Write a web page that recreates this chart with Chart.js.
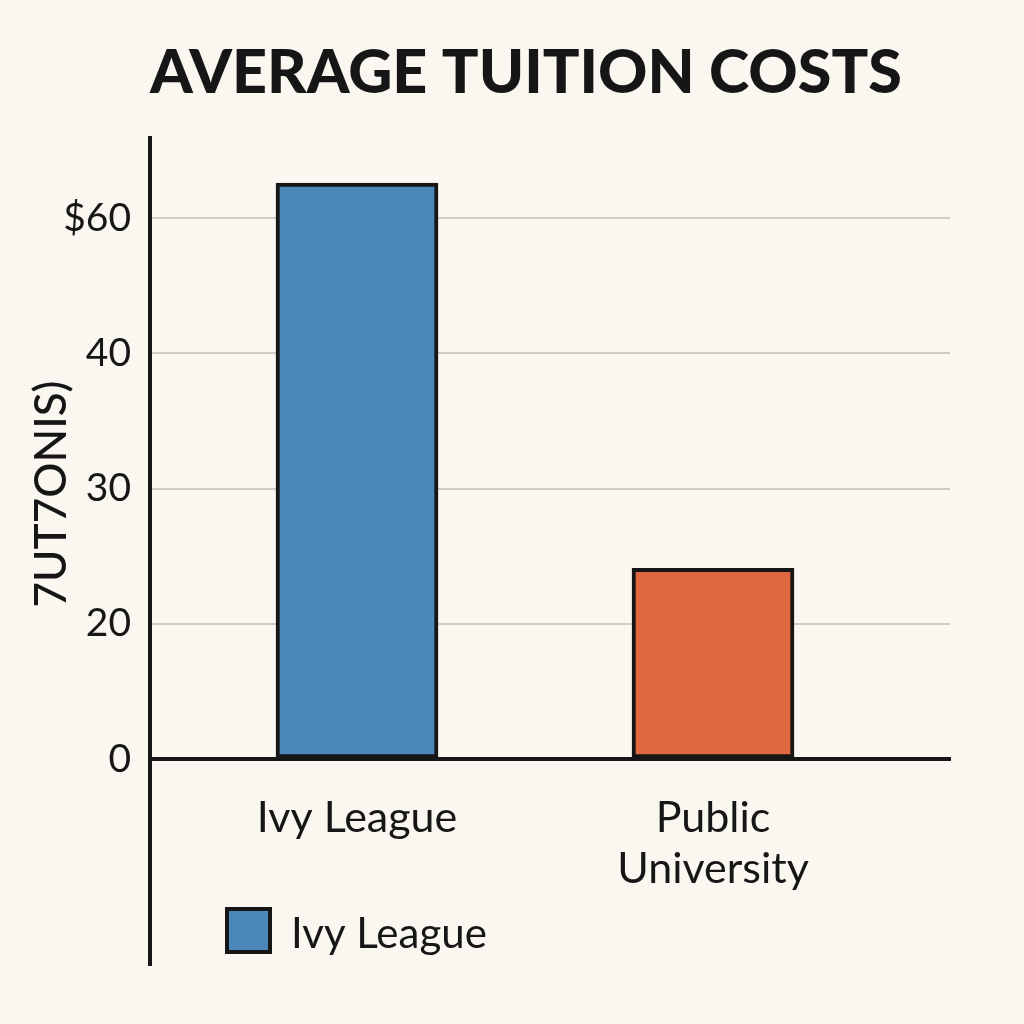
<!DOCTYPE html>
<html>
<head>
<meta charset="utf-8">
<title>Average Tuition Costs</title>
<script src="https://cdn.jsdelivr.net/npm/chart.js@4.4.1/dist/chart.umd.min.js"></script>
<style>
  html, body { margin: 0; padding: 0; background: #faf6f0; }
  #wrap { width: 1024px; height: 1024px; position: relative; }
</style>
</head>
<body>
<div id="wrap"><canvas id="tuitionChart"></canvas></div>
<script>
// Values (bar heights in tick steps, as drawn)
const categories = ['Ivy League', 'Public University'];
const categoryLines = [['Ivy League'], ['Public', 'University']];
const tuitionSteps = [4.26, 1.41];
const barColors = ['#4b88b9', '#df6840'];
const yTickValues = [0, 1, 2, 3, 4];
const yTickLabels = ['0', '20', '30', '40', '$60'];
const legendLabels = ['Ivy League'];
const yAxisTitle = '7UT7ONIS)';

const INK = '#161616';
const FONT = 'Lato, "DejaVu Sans", sans-serif';

// y title + legend are drawn by hand, they sit inside the plot box
const sideText = {
    id: 'sideText',
    afterDraw(chart) {
        const ctx = chart.ctx;
        ctx.save();
        ctx.fillStyle = INK;
        ctx.font = '500 44px ' + FONT;
        ctx.textAlign = 'center';
        ctx.textBaseline = 'middle';
        ctx.translate(52, 494);
        ctx.rotate(-Math.PI / 2);
        ctx.fillText(yAxisTitle, 0, 0);
        ctx.restore();

        // legend
        ctx.save();
        ctx.fillStyle = barColors[0];
        ctx.fillRect(227, 909, 43, 43);
        ctx.strokeStyle = INK;
        ctx.lineWidth = 4;
        ctx.strokeRect(227, 909, 43, 43);
        ctx.fillStyle = INK;
        ctx.font = '42px ' + FONT;
        ctx.textAlign = 'left';
        ctx.textBaseline = 'middle';
        ctx.fillText(legendLabels[0], 291, 934);
        ctx.restore();
    }
};

const ctx = document.getElementById('tuitionChart').getContext('2d');
new Chart(ctx, {
    type: 'bar',
    data: {
        datasets: [{
            label: legendLabels[0],
            data: categories.map((c, i) => ({ x: i, y: tuitionSteps[i] })),
            backgroundColor: barColors,
            borderColor: INK,
            borderWidth: 4,
            borderSkipped: false,
            barThickness: 162
        }]
    },
    plugins: [sideText],
    options: {
        responsive: true,
        maintainAspectRatio: false,
        animation: false,
        layout: { padding: { left: 0, right: 74, top: 0, bottom: 59 } },
        plugins: {
            legend: { display: false },
            tooltip: { enabled: false },
            title: {
                display: true,
                fullSize: false,
                align: 'start',
                text: 'AVERAGE TUITION COSTS',
                color: INK,
                font: { family: FONT, size: 61, weight: '900', lineHeight: 1.2 },
                padding: { top: 37, bottom: 28 }
            }
        },
        scales: {
            x: {
                type: 'linear',
                position: { y: 0 },
                offset: false,
                min: -0.5815,
                max: 1.6657,
                afterBuildTicks: s => { s.ticks = categories.map((c, i) => ({ value: i })); },
                grid: { display: false, drawTicks: false },
                border: { display: true, color: INK, width: 4, z: 1 },
                ticks: {
                    padding: 34,
                    color: INK,
                    font: { family: FONT, size: 43, lineHeight: 1.18 },
                    callback: v => categoryLines[v]
                }
            },
            y: {
                min: -1.523,
                max: 4.591,
                afterBuildTicks: s => { s.ticks = yTickValues.map(v => ({ value: v })); },
                afterFit: s => { s.width = 150; },
                grid: { color: '#d0ccc5', lineWidth: 2, drawTicks: false },
                border: { display: true, color: INK, width: 4 },
                ticks: {
                    padding: 19,
                    color: INK,
                    font: { family: FONT, size: 39 },
                    callback: v => yTickLabels[yTickValues.indexOf(v)]
                }
            }
        }
    }
});
</script>
</body>
</html>
